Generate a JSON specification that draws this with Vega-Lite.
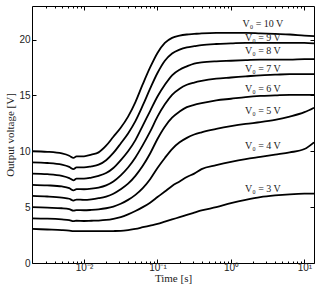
{
  "$schema": "https://vega.github.io/schema/vega-lite/v6.json",
  "autosize": "none",
  "width": 282,
  "height": 257,
  "padding": {"left": 32, "top": 6, "right": 6, "bottom": 25},
  "background": "white",
  "config": {
    "view": {"stroke": "black", "strokeWidth": 1},
    "axis": {
      "grid": false,
      "domain": false,
      "tickColor": "black",
      "labelFont": "Liberation Sans",
      "labelFontSize": 10,
      "labelColor": "#222",
      "titleFont": "Liberation Serif",
      "titleFontSize": 11,
      "titleFontWeight": "normal",
      "titleColor": "#222"
    }
  },
  "datasets": {
    "curves": [
      {"s":"10","t":0.00196,"v":10.0},{"s":"10","t":0.00316,"v":9.95},{"s":"10","t":0.005,"v":9.8},{"s":"10","t":0.0063,"v":9.6},{"s":"10","t":0.0072,"v":9.4},{"s":"10","t":0.0079,"v":9.55},{"s":"10","t":0.01,"v":9.55},{"s":"10","t":0.0126,"v":9.7},{"s":"10","t":0.0158,"v":9.9},{"s":"10","t":0.02,"v":10.5},{"s":"10","t":0.0251,"v":11.3},{"s":"10","t":0.0316,"v":12.1},{"s":"10","t":0.0398,"v":13.1},{"s":"10","t":0.0501,"v":14.4},{"s":"10","t":0.0631,"v":16.0},{"s":"10","t":0.0794,"v":17.5},{"s":"10","t":0.1,"v":18.8},{"s":"10","t":0.126,"v":19.7},{"s":"10","t":0.158,"v":20.15},{"s":"10","t":0.2,"v":20.35},{"s":"10","t":0.251,"v":20.45},{"s":"10","t":0.316,"v":20.5},{"s":"10","t":0.398,"v":20.55},{"s":"10","t":0.631,"v":20.6},{"s":"10","t":1,"v":20.6},{"s":"10","t":1.585,"v":20.6},{"s":"10","t":2.512,"v":20.55},{"s":"10","t":3.981,"v":20.5},{"s":"10","t":6.31,"v":20.45},{"s":"10","t":10,"v":20.35},{"s":"10","t":13.5,"v":20.3},
      {"s":"9","t":0.00196,"v":9.0},{"s":"9","t":0.00316,"v":8.95},{"s":"9","t":0.005,"v":8.8},{"s":"9","t":0.0063,"v":8.6},{"s":"9","t":0.0072,"v":8.4},{"s":"9","t":0.0079,"v":8.55},{"s":"9","t":0.01,"v":8.55},{"s":"9","t":0.0126,"v":8.65},{"s":"9","t":0.0158,"v":8.8},{"s":"9","t":0.02,"v":9.2},{"s":"9","t":0.0251,"v":9.85},{"s":"9","t":0.0316,"v":10.7},{"s":"9","t":0.0398,"v":11.6},{"s":"9","t":0.0501,"v":12.7},{"s":"9","t":0.0631,"v":14.1},{"s":"9","t":0.0794,"v":15.6},{"s":"9","t":0.1,"v":17.0},{"s":"9","t":0.126,"v":18.1},{"s":"9","t":0.158,"v":18.75},{"s":"9","t":0.2,"v":19.1},{"s":"9","t":0.251,"v":19.3},{"s":"9","t":0.316,"v":19.4},{"s":"9","t":0.398,"v":19.5},{"s":"9","t":0.631,"v":19.6},{"s":"9","t":1,"v":19.65},{"s":"9","t":1.585,"v":19.7},{"s":"9","t":2.512,"v":19.7},{"s":"9","t":3.981,"v":19.7},{"s":"9","t":6.31,"v":19.7},{"s":"9","t":10,"v":19.7},{"s":"9","t":13.5,"v":19.65},
      {"s":"8","t":0.00196,"v":8.0},{"s":"8","t":0.00316,"v":7.95},{"s":"8","t":0.005,"v":7.8},{"s":"8","t":0.0063,"v":7.6},{"s":"8","t":0.0072,"v":7.4},{"s":"8","t":0.0079,"v":7.55},{"s":"8","t":0.01,"v":7.55},{"s":"8","t":0.0126,"v":7.65},{"s":"8","t":0.0158,"v":7.8},{"s":"8","t":0.02,"v":8.05},{"s":"8","t":0.0251,"v":8.5},{"s":"8","t":0.0316,"v":9.2},{"s":"8","t":0.0398,"v":10.0},{"s":"8","t":0.0501,"v":11.0},{"s":"8","t":0.0631,"v":12.3},{"s":"8","t":0.0794,"v":13.6},{"s":"8","t":0.1,"v":14.9},{"s":"8","t":0.126,"v":15.95},{"s":"8","t":0.158,"v":16.8},{"s":"8","t":0.2,"v":17.3},{"s":"8","t":0.251,"v":17.6},{"s":"8","t":0.316,"v":17.85},{"s":"8","t":0.398,"v":17.95},{"s":"8","t":0.631,"v":18.05},{"s":"8","t":1,"v":18.1},{"s":"8","t":1.585,"v":18.15},{"s":"8","t":2.512,"v":18.2},{"s":"8","t":3.981,"v":18.2},{"s":"8","t":6.31,"v":18.2},{"s":"8","t":10,"v":18.25},{"s":"8","t":13.5,"v":18.25},
      {"s":"7","t":0.00196,"v":7.0},{"s":"7","t":0.00316,"v":6.95},{"s":"7","t":0.005,"v":6.85},{"s":"7","t":0.0063,"v":6.7},{"s":"7","t":0.0072,"v":6.5},{"s":"7","t":0.0079,"v":6.62},{"s":"7","t":0.01,"v":6.6},{"s":"7","t":0.0126,"v":6.65},{"s":"7","t":0.0158,"v":6.75},{"s":"7","t":0.02,"v":6.95},{"s":"7","t":0.0251,"v":7.3},{"s":"7","t":0.0316,"v":7.85},{"s":"7","t":0.0398,"v":8.55},{"s":"7","t":0.0501,"v":9.45},{"s":"7","t":0.0631,"v":10.55},{"s":"7","t":0.0794,"v":11.75},{"s":"7","t":0.1,"v":13.1},{"s":"7","t":0.126,"v":14.2},{"s":"7","t":0.158,"v":15.05},{"s":"7","t":0.2,"v":15.6},{"s":"7","t":0.251,"v":15.95},{"s":"7","t":0.316,"v":16.15},{"s":"7","t":0.398,"v":16.3},{"s":"7","t":0.631,"v":16.5},{"s":"7","t":1,"v":16.6},{"s":"7","t":1.585,"v":16.7},{"s":"7","t":2.512,"v":16.8},{"s":"7","t":3.981,"v":16.85},{"s":"7","t":6.31,"v":16.9},{"s":"7","t":10,"v":16.9},{"s":"7","t":13.5,"v":16.9},
      {"s":"6","t":0.00196,"v":6.0},{"s":"6","t":0.00316,"v":5.95},{"s":"6","t":0.005,"v":5.85},{"s":"6","t":0.0063,"v":5.75},{"s":"6","t":0.0072,"v":5.58},{"s":"6","t":0.0079,"v":5.68},{"s":"6","t":0.01,"v":5.65},{"s":"6","t":0.0126,"v":5.7},{"s":"6","t":0.0158,"v":5.8},{"s":"6","t":0.02,"v":5.95},{"s":"6","t":0.0251,"v":6.2},{"s":"6","t":0.0316,"v":6.6},{"s":"6","t":0.0398,"v":7.1},{"s":"6","t":0.0501,"v":7.8},{"s":"6","t":0.0631,"v":8.7},{"s":"6","t":0.0794,"v":9.8},{"s":"6","t":0.1,"v":11.1},{"s":"6","t":0.126,"v":12.2},{"s":"6","t":0.158,"v":13.0},{"s":"6","t":0.2,"v":13.55},{"s":"6","t":0.251,"v":13.95},{"s":"6","t":0.316,"v":14.15},{"s":"6","t":0.398,"v":14.3},{"s":"6","t":0.631,"v":14.55},{"s":"6","t":1,"v":14.7},{"s":"6","t":1.585,"v":14.85},{"s":"6","t":2.512,"v":14.95},{"s":"6","t":3.981,"v":15.0},{"s":"6","t":6.31,"v":15.05},{"s":"6","t":10,"v":15.05},{"s":"6","t":13.5,"v":15.05},
      {"s":"5","t":0.00196,"v":5.0},{"s":"5","t":0.00316,"v":4.95},{"s":"5","t":0.005,"v":4.9},{"s":"5","t":0.0063,"v":4.82},{"s":"5","t":0.0072,"v":4.68},{"s":"5","t":0.0079,"v":4.74},{"s":"5","t":0.01,"v":4.72},{"s":"5","t":0.0126,"v":4.75},{"s":"5","t":0.0158,"v":4.8},{"s":"5","t":0.02,"v":4.9},{"s":"5","t":0.0251,"v":5.05},{"s":"5","t":0.0316,"v":5.3},{"s":"5","t":0.0398,"v":5.65},{"s":"5","t":0.0501,"v":6.1},{"s":"5","t":0.0631,"v":6.7},{"s":"5","t":0.0794,"v":7.5},{"s":"5","t":0.1,"v":8.5},{"s":"5","t":0.126,"v":9.4},{"s":"5","t":0.158,"v":10.2},{"s":"5","t":0.2,"v":10.8},{"s":"5","t":0.251,"v":11.2},{"s":"5","t":0.316,"v":11.5},{"s":"5","t":0.398,"v":11.7},{"s":"5","t":0.631,"v":12.0},{"s":"5","t":1,"v":12.25},{"s":"5","t":1.585,"v":12.45},{"s":"5","t":2.512,"v":12.6},{"s":"5","t":3.981,"v":12.8},{"s":"5","t":6.31,"v":13.1},{"s":"5","t":10,"v":13.5},{"s":"5","t":13.5,"v":13.9},
      {"s":"4","t":0.00196,"v":4.0},{"s":"4","t":0.00316,"v":3.97},{"s":"4","t":0.005,"v":3.9},{"s":"4","t":0.0063,"v":3.84},{"s":"4","t":0.0072,"v":3.74},{"s":"4","t":0.0079,"v":3.78},{"s":"4","t":0.01,"v":3.76},{"s":"4","t":0.0126,"v":3.78},{"s":"4","t":0.0158,"v":3.8},{"s":"4","t":0.02,"v":3.85},{"s":"4","t":0.0251,"v":3.95},{"s":"4","t":0.0316,"v":4.1},{"s":"4","t":0.0398,"v":4.35},{"s":"4","t":0.0501,"v":4.65},{"s":"4","t":0.0631,"v":5.0},{"s":"4","t":0.0794,"v":5.4},{"s":"4","t":0.1,"v":5.9},{"s":"4","t":0.126,"v":6.4},{"s":"4","t":0.158,"v":6.9},{"s":"4","t":0.2,"v":7.3},{"s":"4","t":0.251,"v":7.7},{"s":"4","t":0.316,"v":8.0},{"s":"4","t":0.398,"v":8.4},{"s":"4","t":0.631,"v":8.75},{"s":"4","t":1,"v":9.05},{"s":"4","t":1.585,"v":9.3},{"s":"4","t":2.512,"v":9.5},{"s":"4","t":3.981,"v":9.7},{"s":"4","t":6.31,"v":9.9},{"s":"4","t":10,"v":10.2},{"s":"4","t":13.5,"v":10.8},
      {"s":"3","t":0.00196,"v":3.05},{"s":"3","t":0.00316,"v":3.0},{"s":"3","t":0.005,"v":2.95},{"s":"3","t":0.0063,"v":2.9},{"s":"3","t":0.0072,"v":2.85},{"s":"3","t":0.0079,"v":2.85},{"s":"3","t":0.01,"v":2.85},{"s":"3","t":0.0126,"v":2.85},{"s":"3","t":0.0158,"v":2.85},{"s":"3","t":0.02,"v":2.85},{"s":"3","t":0.0251,"v":2.86},{"s":"3","t":0.0316,"v":2.88},{"s":"3","t":0.0398,"v":2.95},{"s":"3","t":0.0501,"v":3.05},{"s":"3","t":0.0631,"v":3.2},{"s":"3","t":0.0794,"v":3.35},{"s":"3","t":0.1,"v":3.5},{"s":"3","t":0.126,"v":3.7},{"s":"3","t":0.158,"v":3.9},{"s":"3","t":0.2,"v":4.1},{"s":"3","t":0.251,"v":4.3},{"s":"3","t":0.316,"v":4.5},{"s":"3","t":0.398,"v":4.7},{"s":"3","t":0.631,"v":5.0},{"s":"3","t":1,"v":5.35},{"s":"3","t":1.585,"v":5.65},{"s":"3","t":2.512,"v":5.9},{"s":"3","t":3.981,"v":6.05},{"s":"3","t":6.31,"v":6.15},{"s":"3","t":10,"v":6.2},{"s":"3","t":13.5,"v":6.2}
    ],
    "labels": [
      {"label":"V₀ = 10 V","t":2.72,"v":21.4},
      {"label":"V₀ = 9 V","t":2.72,"v":20.1},
      {"label":"V₀ = 8 V","t":2.72,"v":18.95},
      {"label":"V₀ = 7 V","t":2.72,"v":17.4},
      {"label":"V₀ = 6 V","t":2.72,"v":15.6},
      {"label":"V₀ = 5 V","t":2.72,"v":13.6},
      {"label":"V₀ = 4 V","t":2.72,"v":10.5},
      {"label":"V₀ = 3 V","t":2.72,"v":6.6}
    ]
  },
  "resolve": {"axis": {"x": "independent", "y": "independent"}},
  "layer": [
    {
      "data": {"name": "curves"},
      "mark": {"type": "line", "color": "black", "strokeWidth": 1.8, "interpolate": "monotone", "clip": true},
      "encoding": {
        "x": {
          "field": "t", "type": "quantitative",
          "scale": {"type": "log", "domain": [0.00196, 13.5], "nice": false},
          "axis": {
            "orient": "bottom",
            "title": "Time [s]",
            "titlePadding": -2,
            "values": [0.003,0.004,0.005,0.006,0.007,0.008,0.009,0.01,0.02,0.03,0.04,0.05,0.06,0.07,0.08,0.09,0.1,0.2,0.3,0.4,0.5,0.6,0.7,0.8,0.9,1,2,3,4,5,6,7,8,9,10],
            "labelExpr": "datum.value == 0.01 ? '10⁻²' : datum.value == 0.1 ? '10⁻¹' : datum.value == 1 ? '10⁰' : datum.value == 10 ? '10¹' : ''",
            "tickSize": {"condition": {"test": "datum.value == 0.01 || datum.value == 0.1 || datum.value == 1 || datum.value == 10", "value": -4}, "value": -2},
            "labelPadding": 3,
            "labelFlush": false,
            "labelOverlap": false
          }
        },
        "y": {
          "field": "v", "type": "quantitative",
          "scale": {"domain": [0, 23], "nice": false},
          "axis": {
            "orient": "left",
            "title": "Output voltage [V]",
            "values": [0,5,10,15,20],
            "tickSize": -4,
            "labelPadding": 6,
            "titlePadding": 3
          }
        },
        "detail": {"field": "s"}
      }
    },
    {
      "data": {"name": "curves"},
      "mark": {"type": "line", "opacity": 0},
      "encoding": {
        "x": {
          "field": "t", "type": "quantitative",
          "axis": {
            "orient": "top",
            "title": null,
            "labels": false,
            "values": [0.003,0.004,0.005,0.006,0.007,0.008,0.009,0.01,0.02,0.03,0.04,0.05,0.06,0.07,0.08,0.09,0.1,0.2,0.3,0.4,0.5,0.6,0.7,0.8,0.9,1,2,3,4,5,6,7,8,9,10],
            "tickSize": {"condition": {"test": "datum.value == 0.01 || datum.value == 0.1 || datum.value == 1 || datum.value == 10", "value": -4}, "value": -2}
          }
        },
        "y": {
          "field": "v", "type": "quantitative",
          "axis": {"orient": "right", "title": null, "labels": false, "values": [0,5,10,15,20], "tickSize": -4}
        },
        "detail": {"field": "s"}
      }
    },
    {
      "data": {"name": "labels"},
      "mark": {"type": "text", "font": "Liberation Serif", "fontSize": 10, "color": "#222", "align": "center", "baseline": "middle"},
      "encoding": {
        "x": {"field": "t", "type": "quantitative", "axis": null},
        "y": {"field": "v", "type": "quantitative", "axis": null},
        "text": {"field": "label"}
      }
    }
  ]
}
